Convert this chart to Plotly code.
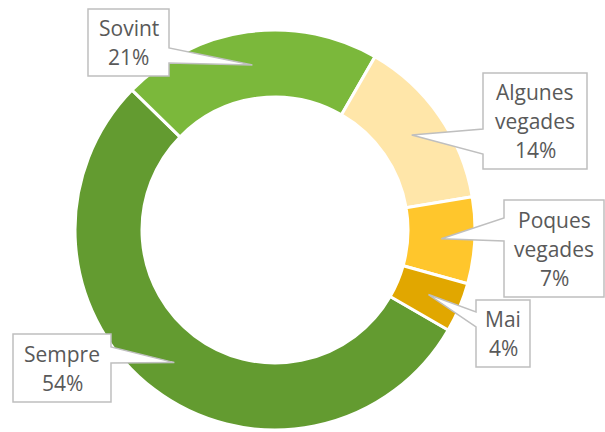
import math
import plotly.graph_objects as go

# Survey answers (share of responses, %)
categories = ["Sempre", "Sovint", "Algunes vegades", "Poques vegades", "Mai"]
values = [54, 21, 14, 7, 4]
colors = ["#639B30", "#7BB83B", "#FFE6A9", "#FFC62C", "#E1A700"]
label_lines = [["Sempre"], ["Sovint"], ["Algunes", "vegades"], ["Poques", "vegades"], ["Mai"]]

W, H = 605, 432
CX, CY, R = 275, 230, 200          # donut centre and outer radius (px)
HOLE = 0.665
ROTATION = 120                      # first slice starts here, clockwise from 12 o'clock

# Callout boxes (px: left, top, right, bottom), the side the pointer leaves from,
# and the span of that edge where the pointer's base sits
boxes = {
    "Sempre": (13, 334, 111, 402, "right", (347, 363)),
    "Sovint": (88, 9, 169, 76, "right", (48, 63)),
    "Algunes vegades": (483, 73, 587, 169, "left", (129, 154)),
    "Poques vegades": (504, 200, 604, 297, "left", (218, 241)),
    "Mai": (476, 300, 530, 367, "left", (312, 327)),
}
LINE_GAP = 29
TEXT_COLOR = "#595959"
BORDER = "#BFBFBF"


def px(x):
    return x / W


def py(y):
    return 1 - y / H


fig = go.Figure(
    go.Pie(
        labels=categories,
        values=values,
        sort=False,
        direction="clockwise",
        rotation=ROTATION,
        hole=HOLE,
        marker=dict(colors=colors, line=dict(color="white", width=3)),
        textinfo="none",
        hoverinfo="label+percent",
        showlegend=False,
        domain=dict(x=[px(CX - R), px(CX + R)], y=[py(CY + R), py(CY - R)]),
    )
)

total = sum(values)
cum = 0
shapes = []
annotations = []
r_tip = R * (1 + HOLE) / 2
for cat, v, lines in zip(categories, values, label_lines):
    # pointer tip sits mid-ring at the slice's centre angle
    theta = math.radians(ROTATION + (cum + v / 2) / total * 360)
    cum += v
    tx = CX + r_tip * math.sin(theta)
    ty = CY - r_tip * math.cos(theta)

    x0, y0, x1, y1, side, (a1, a2) = boxes[cat]
    if side == "left":
        pts = [(x0, y0), (x1, y0), (x1, y1), (x0, y1), (x0, a2), (tx, ty), (x0, a1)]
    else:
        pts = [(x0, y0), (x1, y0), (x1, a1), (tx, ty), (x1, a2), (x1, y1), (x0, y1)]
    path = "M " + " L ".join(f"{px(x):.5f},{py(y):.5f}" for x, y in pts) + " Z"
    shapes.append(dict(type="path", xref="paper", yref="paper", path=path,
                       fillcolor="white", line=dict(color=BORDER, width=1.5), layer="above"))

    text_lines = lines + [f"{v}%"]
    mid = (y0 + y1) / 2
    start = mid - LINE_GAP * (len(text_lines) - 1) / 2
    for i, t in enumerate(text_lines):
        annotations.append(dict(
            x=px((x0 + x1) / 2), y=py(start + i * LINE_GAP), xref="paper", yref="paper",
            text=t, showarrow=False, xanchor="center", yanchor="middle",
            font=dict(family="Open Sans", size=21, color=TEXT_COLOR),
        ))

fig.update_layout(
    width=W, height=H,
    margin=dict(l=0, r=0, t=0, b=0),
    paper_bgcolor="white",
    plot_bgcolor="white",
    shapes=shapes,
    annotations=annotations,
)

fig.write_html("out.html")
